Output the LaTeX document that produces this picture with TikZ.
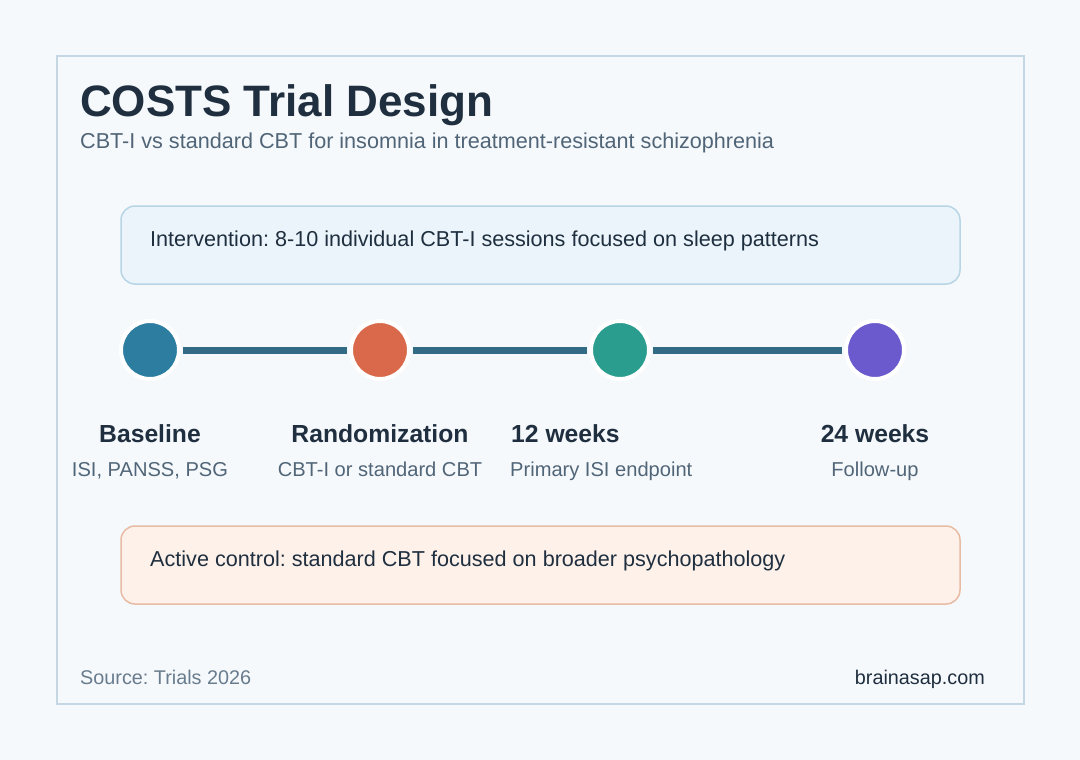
\documentclass[tikz,border=0pt]{standalone}
\usepackage{fontspec}
\setmainfont{Liberation Sans}
\usetikzlibrary{positioning}
\frenchspacing
\definecolor{pageBg}{HTML}{F6F9FC}
\definecolor{frameLine}{HTML}{C6D7E4}
\definecolor{inkDark}{HTML}{1F2F3F}
\definecolor{inkSoft}{HTML}{506577}
\definecolor{inkGrey}{HTML}{687C8E}
\definecolor{intvFill}{HTML}{EAF4FA}
\definecolor{intvLine}{HTML}{B8D5E5}
\definecolor{ctrlFill}{HTML}{FEF1EA}
\definecolor{ctrlLine}{HTML}{E8BBA4}
\definecolor{trackLine}{HTML}{336B87}
\definecolor{msBlue}{HTML}{2C7DA0}
\definecolor{msOrange}{HTML}{D9694A}
\definecolor{msTeal}{HTML}{2A9D8F}
\definecolor{msPurple}{HTML}{6A5ACD}

\begin{document}
\begin{tikzpicture}[x=1pt, y=-1pt,
    milestone/.style={circle, minimum size=58pt, inner sep=0pt,
                      draw=white, line width=4pt},
    armbox/.style={rectangle, rounded corners=14pt, minimum width=839pt,
                   minimum height=78pt, line width=1.5pt, inner sep=0pt},
    tline/.style={line width=7pt, trackLine, shorten <=2pt, shorten >=2pt},
    txt/.style={anchor=base west, inner sep=0pt},
    ctxt/.style={anchor=base, inner sep=0pt},
    mtitle/.style={font=\fontsize{24.7}{29}\selectfont\bfseries, text=inkDark},
    msub/.style={font=\fontsize{20.1}{24}\selectfont, text=inkSoft},
  ]
    % page and frame
    \fill[pageBg] (0,0) rectangle (1080,760);
    \draw[frameLine, line width=2pt, fill=pageBg] (57,56) rectangle (1024,704);

    \node[txt, font=\fontsize{44}{50}\selectfont\bfseries, text=inkDark] (title)
      at (80,117) {COSTS Trial Design};
    \node[txt, font=\fontsize{21.6}{25}\selectfont, text=inkSoft] (subtitle)
      at (80,149) {CBT-I vs standard CBT for insomnia in treatment-resistant schizophrenia};

    % arms
    \node[armbox, fill=intvFill, draw=intvLine] (interv) at (540.5,245) {};
    \node[txt, font=\fontsize{21.6}{25}\selectfont, text=inkDark] (intervtxt)
      at (150,246) {Intervention: 8-10 individual CBT-I sessions focused on sleep patterns};
    \node[armbox, fill=ctrlFill, draw=ctrlLine] (ctrl) at (540.5,565) {};
    \node[txt, font=\fontsize{21.6}{25}\selectfont, text=inkDark] (ctrltxt)
      at (150,566) {Active control: standard CBT focused on broader psychopathology};

    % timeline
    \node[milestone, fill=msBlue]   (m1) at (150,350) {};
    \node[milestone, fill=msOrange] (m2) at (380,350) {};
    \node[milestone, fill=msTeal]   (m3) at (620,350) {};
    \node[milestone, fill=msPurple] (m4) at (875,350) {};

    \draw[tline] (m1) -- (m2);
    \draw[tline] (m2) -- (m3);
    \draw[tline] (m3) -- (m4);

    \node[ctxt, mtitle] (l1) at (150,442) {Baseline};
    \node[ctxt, msub]   (d1) at (150,476) {ISI, PANSS, PSG};
    \node[ctxt, mtitle] (l2) at (380,442) {Randomization};
    \node[ctxt, msub]   (d2) at (380,476) {CBT-I or standard CBT};
    \node[txt, mtitle]  (l3) at (511,442) {12 weeks};
    \node[txt, msub]    (d3) at (510,476) {Primary ISI endpoint};
    \node[ctxt, mtitle] (l4) at (875,442) {24 weeks};
    \node[ctxt, msub]   (d4) at (875,476) {Follow-up};

    % footer
    \node[txt, font=\fontsize{19.8}{23}\selectfont, text=inkGrey] (source)
      at (80,684) {Source: Trials 2026};
    \node[anchor=base east, inner sep=0pt, font=\fontsize{19.8}{23}\selectfont, text=inkDark] (brand)
      at (985,684) {brainasap.com};
\end{tikzpicture}
\end{document}
